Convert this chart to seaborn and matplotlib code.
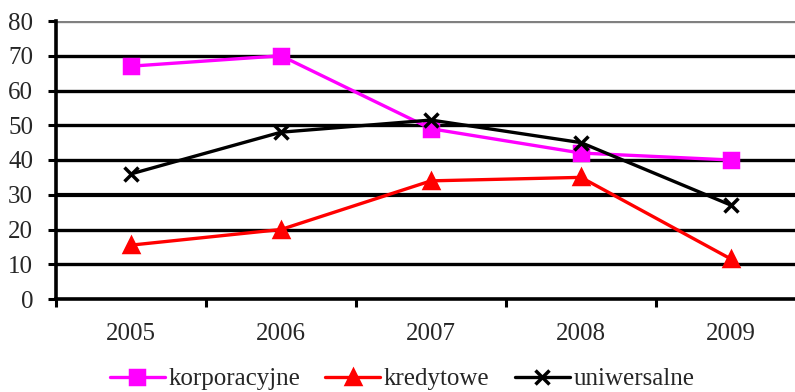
import matplotlib
matplotlib.use("Agg")
import matplotlib.pyplot as plt
import seaborn as sns
import pandas as pd
import numpy as np
from matplotlib.lines import Line2D

years = ["2005", "2006", "2007", "2008", "2009"]
korporacyjne = [67, 70, 49, 42, 40]
kredytowe = [15.5, 20, 34, 35, 11.5]
uniwersalne = [36, 48, 51.5, 45, 27]
series_names = ["korporacyjne", "kredytowe", "uniwersalne"]
y_ticks = [0, 10, 20, 30, 40, 50, 60, 70, 80]

sns.set_theme(style="white")
plt.rcParams['font.family'] = ['Liberation Serif', 'DejaVu Serif']

series_values = {"korporacyjne": korporacyjne, "kredytowe": kredytowe, "uniwersalne": uniwersalne}
palette = {"korporacyjne": "#FF00FF", "kredytowe": "#FF0000", "uniwersalne": "#000000"}
markers = {"korporacyjne": "s", "kredytowe": "^", "uniwersalne": "x"}

fig = plt.figure(figsize=(7.95, 3.92), dpi=100)
ax = fig.add_axes([56/795, (392-299)/392, 750/795, (299-21)/392])

for s in series_names:
    d = pd.DataFrame({"rok": years, "wartosc": series_values[s]})
    sns.lineplot(data=d, x="rok", y="wartosc", color=palette[s], marker=markers[s],
                 linewidth=2.4, markersize=10.5, markeredgewidth=2.5,
                 markeredgecolor=palette[s], ax=ax, zorder=3, sort=False)

fs = 18
ax.set_xlim(-0.5, 4.5)
ax.set_ylim(0, 80)
ax.set_yticks(y_ticks)
ax.set_yticklabels([str(v) for v in y_ticks], fontsize=fs)
ax.set_xticks(range(len(years)))
ax.set_xticklabels(years, fontsize=fs)
ax.set_xticks(np.arange(-0.5, 5.0, 1.0), minor=True)
ax.tick_params(axis='x', which='major', length=0, pad=17)
ax.tick_params(axis='x', which='minor', length=5.5, width=2.2, color='black', direction='out', bottom=True)
ax.tick_params(axis='y', which='major', length=5.5, width=2.2, color='black', direction='out', pad=11, left=True)
ax.set_xlabel("")
ax.set_ylabel("")

for v in y_ticks[1:-1]:
    ax.axhline(v, color='black', lw=2.4 if v != 30 else 3.0, zorder=1)
ax.axhline(80, color='#808080', lw=2.4, zorder=1)

for sp in ["top", "right"]:
    ax.spines[sp].set_visible(False)
ax.spines["left"].set_color("black")
ax.spines["left"].set_linewidth(2.6)
ax.spines["bottom"].set_color("black")
ax.spines["bottom"].set_linewidth(2.6)
ax.grid(False)

handles = [Line2D([0], [0], color=palette[s], marker=markers[s], lw=2.4,
                  markersize=10.5, markeredgewidth=2.5) for s in series_names]
fig.legend(handles, series_names, loc="center", bbox_to_anchor=(402/795, 1 - 379/392),
           ncol=3, frameon=False, fontsize=fs, handlelength=2.2, handletextpad=0.15,
           columnspacing=1.0, borderpad=0.1)

fig.savefig("out.png", dpi=100)
